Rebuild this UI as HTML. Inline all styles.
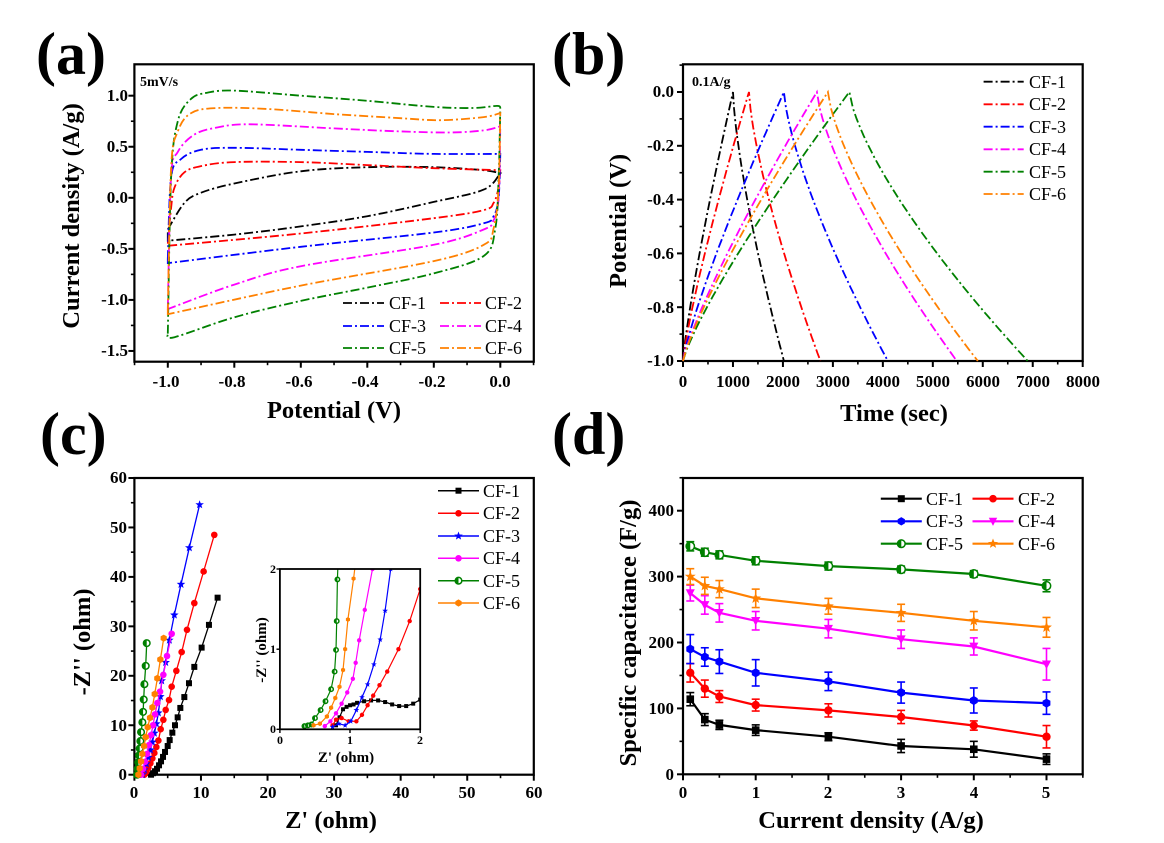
<!DOCTYPE html>
<html><head><meta charset="utf-8">
<style>
html,body{margin:0;padding:0;background:#fff;}
svg{display:block;}
text{font-family:"Liberation Serif","DejaVu Serif",serif;}
.tk{font-size:17px;font-weight:bold;}
.tt{font-size:24.5px;font-weight:bold;}
.pl{font-size:60px;font-weight:bold;}
.lg{font-size:18px;}
.it{font-size:12px;font-weight:bold;}
.itt{font-size:15px;font-weight:bold;}
</style></head>
<body>
<svg id="s" width="1164" height="843" viewBox="0 0 1164 843" xmlns="http://www.w3.org/2000/svg">
<rect width="1164" height="843" fill="#fff"/>
<g id="plots"></g>
<text class="pl" x="36" y="74">(a)</text>
<text class="pl" x="552" y="74">(b)</text>
<text class="pl" x="40" y="454">(c)</text>
<text class="pl" x="552" y="454">(d)</text>

<!-- (a) -->
<g class="tk" text-anchor="end">
<text x="128" y="101">1.0</text><text x="128" y="152">0.5</text><text x="128" y="203">0.0</text>
<text x="128" y="254">-0.5</text><text x="128" y="305">-1.0</text><text x="128" y="356">-1.5</text>
</g>
<g class="tk" text-anchor="middle">
<text x="166" y="387">-1.0</text><text x="232" y="387">-0.8</text><text x="299" y="387">-0.6</text>
<text x="365" y="387">-0.4</text><text x="432" y="387">-0.2</text><text x="500" y="387">0.0</text>
</g>
<text class="tt" x="334" y="418" text-anchor="middle">Potential (V)</text>
<text class="tt" transform="translate(79,216) rotate(-90)" text-anchor="middle">Current density (A/g)</text>
<text x="140" y="86" font-size="14" font-weight="bold">5mV/s</text>
<g class="lg">
<text x="389" y="309">CF-1</text><text x="485" y="309">CF-2</text>
<text x="389" y="332">CF-3</text><text x="485" y="332">CF-4</text>
<text x="389" y="354">CF-5</text><text x="485" y="354">CF-6</text>
</g>

<!-- (b) -->
<g class="tk" text-anchor="end">
<text x="674" y="97">0.0</text><text x="674" y="151">-0.2</text><text x="674" y="205">-0.4</text>
<text x="674" y="259">-0.6</text><text x="674" y="313">-0.8</text><text x="674" y="366">-1.0</text>
</g>
<g class="tk" text-anchor="middle">
<text x="683" y="387">0</text><text x="733" y="387">1000</text><text x="783" y="387">2000</text>
<text x="833" y="387">3000</text><text x="883" y="387">4000</text><text x="933" y="387">5000</text>
<text x="983" y="387">6000</text><text x="1033" y="387">7000</text><text x="1083" y="387">8000</text>
</g>
<text class="tt" x="894" y="421" text-anchor="middle">Time (sec)</text>
<text class="tt" transform="translate(626,221) rotate(-90)" text-anchor="middle">Potential (V)</text>
<text x="692" y="86" font-size="14" font-weight="bold">0.1A/g</text>
<g class="lg">
<text x="1029" y="88">CF-1</text><text x="1029" y="110">CF-2</text><text x="1029" y="133">CF-3</text>
<text x="1029" y="155">CF-4</text><text x="1029" y="178">CF-5</text><text x="1029" y="200">CF-6</text>
</g>

<!-- (c) -->
<g class="tk" text-anchor="end">
<text x="127" y="780">0</text><text x="127" y="731">10</text><text x="127" y="681">20</text>
<text x="127" y="632">30</text><text x="127" y="582">40</text><text x="127" y="533">50</text><text x="127" y="483">60</text>
</g>
<g class="tk" text-anchor="middle">
<text x="134" y="798">0</text><text x="201" y="798">10</text><text x="268" y="798">20</text>
<text x="334" y="798">30</text><text x="401" y="798">40</text><text x="467" y="798">50</text><text x="534" y="798">60</text>
</g>
<text class="tt" x="331" y="828" text-anchor="middle">Z' (ohm)</text>
<text class="tt" transform="translate(90,642) rotate(-90)" text-anchor="middle">-Z'' (ohm)</text>
<g class="it" text-anchor="end">
<text x="276" y="733">0</text><text x="276" y="653">1</text><text x="276" y="573">2</text>
</g>
<g class="it" text-anchor="middle">
<text x="280" y="744">0</text><text x="350" y="744">1</text><text x="420" y="744">2</text>
</g>
<text class="itt" x="346" y="762" text-anchor="middle">Z' (ohm)</text>
<text class="itt" transform="translate(266,650) rotate(-90)" text-anchor="middle">-Z'' (ohm)</text>
<g class="lg">
<text x="483" y="497">CF-1</text><text x="483" y="519">CF-2</text><text x="483" y="542">CF-3</text>
<text x="483" y="564">CF-4</text><text x="483" y="587">CF-5</text><text x="483" y="609">CF-6</text>
</g>

<!-- (d) -->
<g class="tk" text-anchor="end">
<text x="674" y="780">0</text><text x="674" y="714">100</text><text x="674" y="648">200</text>
<text x="674" y="582">300</text><text x="674" y="516">400</text>
</g>
<g class="tk" text-anchor="middle">
<text x="683" y="798">0</text><text x="756" y="798">1</text><text x="828" y="798">2</text>
<text x="901" y="798">3</text><text x="974" y="798">4</text><text x="1046" y="798">5</text>
</g>
<text class="tt" x="871" y="828" text-anchor="middle">Current density (A/g)</text>
<text class="tt" transform="translate(636,633) rotate(-90)" text-anchor="middle">Specific capacitance (F/g)</text>
<g class="lg">
<text x="926" y="505">CF-1</text><text x="1018" y="505">CF-2</text>
<text x="926" y="527">CF-3</text><text x="1018" y="527">CF-4</text>
<text x="926" y="550">CF-5</text><text x="1018" y="550">CF-6</text>
</g>
</svg>
<script>
(function(){
var NS="http://www.w3.org/2000/svg", G=document.getElementById("plots");
function el(t,a,p){var e=document.createElementNS(NS,t);for(var k in a)e.setAttribute(k,a[k]);(p||G).appendChild(e);return e;}
var C=["#000","#f00","#00f","#f0f","#008000","#ff8000"];
var DASH="9,3,2,3";
function lin(a,b,c,d){return function(v){return c+(v-a)*(d-c)/(b-a);};}
function frame(L,R,T,B,xt,yt,xm,ym){
  el("rect",{x:L,y:T,width:R-L,height:B-T,fill:"none",stroke:"#000","stroke-width":2.2});
  xt.forEach(function(x){el("line",{x1:x,x2:x,y1:B,y2:B+6,stroke:"#000","stroke-width":2});});
  xm.forEach(function(x){el("line",{x1:x,x2:x,y1:B,y2:B+3.5,stroke:"#000","stroke-width":1.6});});
  yt.forEach(function(y){el("line",{x1:L,x2:L-6,y1:y,y2:y,stroke:"#000","stroke-width":2});});
  ym.forEach(function(y){el("line",{x1:L,x2:L-3.5,y1:y,y2:y,stroke:"#000","stroke-width":1.6});});
}
function rng(a,b,s){var r=[];for(var v=a;v<=b+1e-9;v+=s)r.push(v);return r;}
function cat(P){
  var d="M"+P[0][0].toFixed(1)+","+P[0][1].toFixed(1);
  for(var i=0;i<P.length-1;i++){
    var p0=P[i-1]||P[i],p1=P[i],p2=P[i+1],p3=P[i+2]||P[i+1];
    var c1=[p1[0]+(p2[0]-p0[0])/6,p1[1]+(p2[1]-p0[1])/6],c2=[p2[0]-(p3[0]-p1[0])/6,p2[1]-(p3[1]-p1[1])/6];
    d+="C"+c1[0].toFixed(1)+","+c1[1].toFixed(1)+" "+c2[0].toFixed(1)+","+c2[1].toFixed(1)+" "+p2[0].toFixed(1)+","+p2[1].toFixed(1);
  }
  return d;
}
// ===== (a) =====
var ax=lin(-1,0,167.8,500.3), ay=lin(0,1,197.8,95.7);
frame(134.4,533.8,64.3,361.7,rng(-1,0,0.2).map(ax),rng(-1.5,1,0.5).map(ay),rng(-1.1,0.1,0.1).map(ax),rng(-1.5,1,0.25).map(ay));
var cv=[
 {u:[[-1,-0.31],[-0.95,-0.05],[-0.9,0.05],[-0.8,0.14],[-0.6,0.26],[-0.4,0.3],[-0.2,0.3],[-0.05,0.27],[0,0.24]],
  l:[[0,0.24],[-0.05,0.08],[-0.2,-0.04],[-0.4,-0.18],[-0.6,-0.28],[-0.8,-0.36],[-1,-0.42]]},
 {u:[[-1,-0.45],[-0.99,-0.1],[-0.98,0.1],[-0.95,0.25],[-0.9,0.31],[-0.8,0.35],[-0.6,0.35],[-0.4,0.32],[-0.2,0.29],[0,0.27]],
  l:[[0,0.27],[-0.005,0.1],[-0.02,-0.05],[-0.05,-0.12],[-0.2,-0.2],[-0.6,-0.35],[-1,-0.47]]},
 {u:[[-1,-0.6],[-0.99,0.2],[-0.96,0.38],[-0.9,0.47],[-0.8,0.49],[-0.6,0.47],[-0.4,0.45],[-0.2,0.43],[0,0.43]],
  l:[[0,0.43],[-0.005,0.0],[-0.02,-0.18],[-0.05,-0.25],[-0.2,-0.34],[-0.6,-0.48],[-1,-0.64]]},
 {u:[[-1,-1.08],[-0.99,0.2],[-0.97,0.45],[-0.92,0.62],[-0.85,0.69],[-0.75,0.72],[-0.5,0.68],[-0.3,0.65],[-0.15,0.64],[-0.05,0.66],[0,0.7]],
  l:[[0,0.7],[-0.005,0.0],[-0.02,-0.22],[-0.05,-0.31],[-0.2,-0.46],[-0.6,-0.67],[-0.8,-0.85],[-1,-1.09]]},
 {u:[[-1,-1.33],[-0.99,0.2],[-0.97,0.75],[-0.93,0.97],[-0.88,1.03],[-0.8,1.05],[-0.6,1.0],[-0.4,0.95],[-0.2,0.89],[-0.08,0.88],[-0.01,0.9],[0,0.88]],
  l:[[0,0.88],[-0.005,0.2],[-0.015,-0.3],[-0.05,-0.57],[-0.2,-0.74],[-0.4,-0.88],[-0.6,-1.01],[-0.8,-1.17],[-0.98,-1.365],[-1,-1.33]]},
 {u:[[-1,-1.12],[-0.99,0.3],[-0.97,0.65],[-0.93,0.83],[-0.85,0.88],[-0.7,0.87],[-0.5,0.82],[-0.3,0.78],[-0.18,0.76],[-0.05,0.79],[0,0.83]],
  l:[[0,0.83],[-0.005,0.1],[-0.02,-0.3],[-0.05,-0.46],[-0.2,-0.62],[-0.6,-0.86],[-1,-1.14]]}
];
cv.forEach(function(s,i){
  var pu=s.u.map(function(p){return[ax(p[0]),ay(p[1])];}), pl=s.l.map(function(p){return[ax(p[0]),ay(p[1])];});
  el("path",{d:cat(pu)+" "+cat(pl).replace("M","L")+"Z",fill:"none",stroke:C[i],"stroke-width":1.8,"stroke-dasharray":DASH});
});
[[343,303],[440,303],[343,326],[440,326],[343,348],[440,348]].forEach(function(p,i){
  el("line",{x1:p[0],x2:p[0]+41,y1:p[1],y2:p[1],stroke:C[i],"stroke-width":1.8,"stroke-dasharray":DASH});});
// ===== (b) =====
var bx=lin(0,8000,683,1082.7), by=lin(0,-1,92,361);
frame(683,1082.7,64.3,361,rng(0,8000,1000).map(bx),rng(-1,0,0.2).map(by),rng(500,7500,1000).map(bx),rng(-0.9,0.1,0.2).map(by));
var gc=[[1000,2020],[1320,2750],[2020,4100],[2680,5480],[3330,6900],[2900,5900]];
gc.forEach(function(g,i){
  var P=[],n=50,k;
  for(k=0;k<=n;k++){var f=k/n;P.push([bx(f*g[0]),by(-1+Math.pow(f,0.83))]);}
  for(k=1;k<=n;k++){var f=k/n;P.push([bx(g[0]+f*(g[1]-g[0])),by(-Math.pow(f,0.72))]);}
  el("polyline",{points:P.map(function(p){return p[0].toFixed(1)+","+p[1].toFixed(1);}).join(" "),fill:"none",stroke:C[i],"stroke-width":1.8,"stroke-dasharray":DASH});
});
[81.7,104.3,126.7,149.3,171.7,194].forEach(function(y,i){
  el("line",{x1:983.6,x2:1023.7,y1:y,y2:y,stroke:C[i],"stroke-width":1.8,"stroke-dasharray":DASH});});
function star(cx,cy,r){var s="";for(var k=0;k<10;k++){var a=-Math.PI/2+k*Math.PI/5,rr=k%2?r*0.42:r;s+=(cx+rr*Math.cos(a)).toFixed(1)+","+(cy+rr*Math.sin(a)).toFixed(1)+" ";}return s;}
function mk(t,x,y,r,c,p){
  p=p||G;
  if(t==0) el("rect",{x:x-r,y:y-r,width:2*r,height:2*r,fill:c},p);
  else if(t==1) el("circle",{cx:x,cy:y,r:r*1.1,fill:c},p);
  else if(t==2||t==7) el("polygon",{points:star(x,y,r*1.5),fill:c},p);
  else if(t==4){el("circle",{cx:x,cy:y,r:r*1.1,fill:"#fff",stroke:c,"stroke-width":1.5},p);el("path",{d:"M"+x+","+(y-r*1.1)+"A"+r*1.1+","+r*1.1+" 0 0,0 "+x+","+(y+r*1.1)+"Z",fill:c},p);}
  else if(t==6) el("polygon",{points:(x-r*1.2)+","+(y-r)+" "+(x+r*1.2)+","+(y-r)+" "+x+","+(y+r*1.3),fill:c},p);
  else if(t==8) el("polygon",{points:[0,1,2,3,4,5].map(function(k){var a=Math.PI/6+k*Math.PI/3;return (x+r*1.2*Math.cos(a)).toFixed(1)+","+(y+r*1.2*Math.sin(a)).toFixed(1);}).join(" "),fill:c},p);
}
// ===== (c) =====
var cx=lin(0,60,134.4,533.8), cy=lin(0,60,774.7,478);
frame(134.4,533.8,478,774.7,rng(0,60,10).map(cx),rng(0,60,10).map(cy),rng(5,55,10).map(cx),rng(5,55,10).map(cy));
var eis=[
 [[2.5,0],[2.8,0.3],[3.1,0.7],[3.4,1.2],[3.7,1.9],[4,2.7],[4.3,3.6],[4.6,4.6],[5,5.8],[5.3,7],[5.7,8.5],[6.1,10],[6.5,11.6],[6.9,13.5],[7.5,15.7],[8.2,18.5],[9,21.8],[10.1,25.7],[11.2,30.3],[12.5,35.8]],
 [[1.5,0],[1.8,0.6],[2.1,1.4],[2.4,2.3],[2.7,3.3],[3,4.4],[3.3,5.6],[3.6,6.9],[3.95,9.2],[4.35,11.1],[4.7,13.1],[5.2,15.1],[5.6,17.8],[6.3,21],[7.1,24.8],[7.9,29.3],[9,34.7],[10.4,41.1],[12,48.5]],
 [[1.2,0],[1.5,1],[1.8,2.2],[2.1,3.5],[2.4,5],[2.7,6.6],[3,8.4],[3.3,10.3],[3.6,12.5],[3.9,15.8],[4.1,19],[4.7,22.7],[5.25,27.2],[6,32.3],[7,38.5],[8.25,45.9],[9.8,54.6]],
 [[1,0],[1.3,1.2],[1.6,2.6],[1.9,4.2],[2.2,6],[2.5,8],[2.8,10],[3.1,12.2],[3.45,14.5],[3.85,16.8],[4.35,20.2],[4.9,24],[5.6,28.5]],
 [[0.4,0],[0.5,1.2],[0.6,2.5],[0.7,3.9],[0.8,5.3],[0.9,6.8],[1.0,8.6],[1.2,10.6],[1.3,12.7],[1.4,15.2],[1.5,18.3],[1.7,22],[1.85,26.6]],
 [[0.6,0],[0.8,1.3],[1.0,2.7],[1.2,4.2],[1.45,5.8],[1.7,7.6],[2,9.6],[2.35,11.5],[2.7,13.6],[3.05,16.3],[3.45,19.5],[3.9,23.3],[4.4,27.6]]
];
var cm=[0,1,2,1,4,8];
eis.forEach(function(s,i){
  var P=s.map(function(p){return[cx(p[0]),cy(p[1])];});
  el("polyline",{points:P.map(function(p){return p[0].toFixed(1)+","+p[1].toFixed(1);}).join(" "),fill:"none",stroke:C[i],"stroke-width":1.3});
  P.forEach(function(p){mk(cm[i],p[0],p[1],3,C[i]);});
});
var ix=lin(0,2,279.9,420.2), iy=lin(0,2,729.3,569);
el("rect",{x:279.9,y:569,width:140.3,height:160.3,fill:"#fff"});
el("clipPath",{id:"ic"});
el("rect",{x:279.9,y:569,width:140.3,height:160.3},document.getElementById("ic"));
var ig=el("g",{"clip-path":"url(#ic)"});
var ins=[
 [[0.8,0.05],[0.85,0.15],[0.9,0.25],[0.95,0.28],[1.0,0.3],[1.05,0.31],[1.1,0.33],[1.2,0.35],[1.3,0.36],[1.4,0.36],[1.5,0.34],[1.6,0.31],[1.7,0.29],[1.8,0.29],[1.9,0.32],[2,0.37]],
 [[0.75,0.05],[0.8,0.12],[0.88,0.14],[0.98,0.1],[1.09,0.1],[1.17,0.18],[1.25,0.3],[1.33,0.42],[1.42,0.55],[1.53,0.72],[1.69,1.0],[1.85,1.35],[2,1.75],[2.05,1.9]],
 [[0.75,0.03],[0.84,0.07],[0.93,0.05],[1.01,0.1],[1.09,0.24],[1.17,0.4],[1.25,0.56],[1.34,0.81],[1.43,1.12],[1.5,1.48],[1.58,2.0],[1.6,2.1]],
 [[0.64,0.04],[0.72,0.1],[0.8,0.2],[0.88,0.32],[0.96,0.46],[1.04,0.63],[1.08,0.83],[1.13,1.11],[1.21,1.49],[1.32,2.0],[1.34,2.1]],
 [[0.35,0.04],[0.4,0.05],[0.45,0.06],[0.5,0.14],[0.58,0.24],[0.65,0.35],[0.73,0.5],[0.78,0.72],[0.8,0.99],[0.81,1.35],[0.82,1.87],[0.83,2.1]],
 [[0.48,0.05],[0.57,0.07],[0.67,0.16],[0.73,0.27],[0.79,0.39],[0.85,0.53],[0.9,0.74],[0.93,1.0],[0.97,1.37],[1.05,1.88],[1.08,2.1]]
];
ins.forEach(function(s,i){
  var P=s.map(function(p){return[ix(p[0]),iy(p[1])];});
  el("polyline",{points:P.map(function(p){return p[0].toFixed(1)+","+p[1].toFixed(1);}).join(" "),fill:"none",stroke:C[i],"stroke-width":1.2},ig);
  P.forEach(function(p){mk(cm[i],p[0],p[1],2,C[i],ig);});
});
el("rect",{x:279.9,y:569,width:140.3,height:160.3,fill:"none",stroke:"#000","stroke-width":1.8});
[279.9,350,420.2].forEach(function(x){el("line",{x1:x,x2:x,y1:729.3,y2:733,stroke:"#000","stroke-width":1.4});});
[729.3,649.2,569].forEach(function(y){el("line",{x1:279.9,x2:276.5,y1:y,y2:y,stroke:"#000","stroke-width":1.4});});
[490.7,513.3,536,558.3,580.7,603].forEach(function(y,i){
  el("line",{x1:438,x2:479,y1:y,y2:y,stroke:C[i],"stroke-width":1.5});mk(cm[i],458.5,y,3,C[i]);});
// ===== (d) =====
var dx=lin(0,5,683,1046.5), dy=lin(0,400,774.3,510.7);
frame(683,1082.7,478,774.3,rng(0,5,1).map(dx),rng(0,400,100).map(dy),rng(0.5,5.5,1).map(dx),rng(50,450,100).map(dy));
var X=[0.1,0.3,0.5,1,2,3,4,5];
var D=[
 [[114,83,75,67,57,43,38,23],[10,9,7,8,6,10,12,8]],
 [[154,130,118,105,97,87,74,57],[14,13,9,9,10,10,7,17]],
 [[190,178,171,154,141,124,112,108],[22,14,18,20,14,16,19,17]],
 [[275,257,245,233,221,205,194,167],[12,14,14,14,14,14,13,24]],
 [[346,337,333,324,316,311,304,286],[7,6,6,6,6,5,5,9]],
 [[300,286,281,267,255,245,233,223],[12,13,13,14,12,13,14,15]]
];
var dm=[0,1,8,6,4,7];
D.forEach(function(s,i){
  var P=X.map(function(x,j){return[dx(x),dy(s[0][j])];});
  X.forEach(function(x,j){var px=dx(x),a=dy(s[0][j]+s[1][j]),b=dy(s[0][j]-s[1][j]);
    el("line",{x1:px,x2:px,y1:a,y2:b,stroke:C[i],"stroke-width":1.6});
    el("line",{x1:px-4,x2:px+4,y1:a,y2:a,stroke:C[i],"stroke-width":1.6});
    el("line",{x1:px-4,x2:px+4,y1:b,y2:b,stroke:C[i],"stroke-width":1.6});});
  el("polyline",{points:P.map(function(p){return p[0].toFixed(1)+","+p[1].toFixed(1);}).join(" "),fill:"none",stroke:C[i],"stroke-width":2.2});
  P.forEach(function(p){mk(dm[i],p[0],p[1],3.8,C[i]);});
});
[[880.8,498.7],[972.5,498.7],[880.8,521.3],[972.5,521.3],[880.8,543.7],[972.5,543.7]].forEach(function(p,i){
  el("line",{x1:p[0],x2:p[0]+41,y1:p[1],y2:p[1],stroke:C[i],"stroke-width":2.2});mk(dm[i],p[0]+20.5,p[1],3.5,C[i]);});
})();
</script>
</body></html>
